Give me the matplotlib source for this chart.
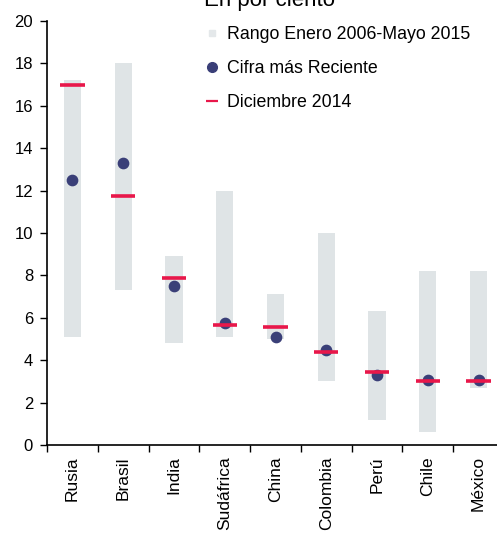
import matplotlib
matplotlib.use("Agg")
import matplotlib.pyplot as plt
import numpy as np
from matplotlib.lines import Line2D

plt.rcParams['font.family'] = ['Liberation Sans', 'DejaVu Sans']

# ====================== 数据 ======================
paises = ['Rusia', 'Brasil', 'India', 'Sudáfrica', 'China', 'Colombia', 'Perú', 'Chile', 'México']
rango_min = [5.1, 7.3, 4.8, 5.1, 5.0, 3.0, 1.2, 0.6, 2.7]
rango_max = [17.2, 18.0, 8.9, 12.0, 7.1, 10.0, 6.3, 8.2, 8.2]
cifra_reciente = [12.5, 13.3, 7.5, 5.75, 5.1, 4.5, 3.3, 3.05, 3.05]
diciembre_2014 = [17.0, 11.75, 7.9, 5.65, 5.55, 4.4, 3.45, 3.0, 3.0]

fig = plt.figure(figsize=(4.97, 5.35), dpi=100)
ax = fig.add_axes([47/497, 1-445/535, 457/497, 424/535])

x = np.arange(len(paises))
ax.bar(x, np.array(rango_max) - np.array(rango_min), bottom=rango_min,
       width=0.34, color='#dfe4e6', zorder=1)
ax.scatter(x, cifra_reciente, s=55, color='#3a3f78', zorder=3)
ax.hlines(diciembre_2014, x - 0.24, x + 0.24, color='#e8174a', linewidth=2.6, zorder=4)

ax.set_xlim(-0.5, len(paises) - 0.5)
ax.set_ylim(0, 20)
ax.set_yticks(range(0, 21, 2))
ax.set_xticks(x)
ax.set_xticklabels(paises, rotation=90, fontsize=12.5)
ax.set_xticks(np.arange(-0.5, len(paises), 1), minor=True)
ax.tick_params(axis='x', which='major', length=0, pad=8)
ax.tick_params(axis='x', which='minor', length=5, direction='out', width=1)
ax.tick_params(axis='y', length=5, direction='out', width=1, labelsize=12, pad=5)
for s in ['top', 'right']:
    ax.spines[s].set_visible(False)
ax.spines['left'].set_linewidth(1.2)
ax.spines['bottom'].set_linewidth(1.2)

# 标题在原图中被顶部裁掉一半
fig.text(270/497, 1-6/535, 'En por ciento', ha='center', va='baseline', fontsize=16)

handles = [
    Line2D([], [], marker='s', linestyle='none', markersize=4, color='#e4e8ea'),
    Line2D([], [], marker='o', linestyle='none', markersize=7, color='#3a3f78'),
    Line2D([], [], marker='_', linestyle='none', markersize=8, markeredgewidth=1.6, color='#e8174a'),
]
labels = ['Rango Enero 2006-Mayo 2015', 'Cifra más Reciente', 'Diciembre 2014']
ax.legend(handles, labels, loc='upper left', bbox_to_anchor=(0.315, 1.025), frameon=False,
          fontsize=12.8, handlelength=0.6, handletextpad=0.55, labelspacing=0.95)

plt.savefig('out.png', dpi=100)
